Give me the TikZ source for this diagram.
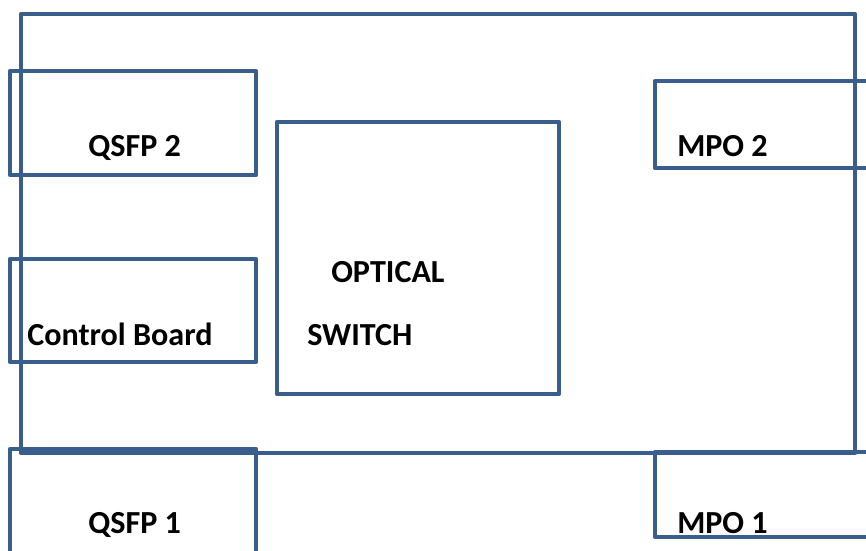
\documentclass[tikz,border=0pt]{standalone}
\usepackage{fontspec}
\setmainfont{Carlito}
\definecolor{boxblue}{RGB}{58,94,140}
\tikzset{
  box/.style={draw=boxblue, line width=3.2pt, line join=round},
  lbl/.style={font=\fontsize{24.1}{29}\selectfont\bfseries, anchor=base west, inner sep=0pt, text=black}
}
\begin{document}
\begin{tikzpicture}[x=0.75pt,y=-0.75pt]
\useasboundingbox (0,0) rectangle (866,550);
\clip (0,0) rectangle (866,550);
% outer board
\draw[box] (21,14) rectangle (855,453);
% left modules
\draw[box] (10,71) rectangle (256,175);
\draw[box] (10,259) rectangle (256,362);
\draw[box] (10,449) rectangle (256,570);
% optical switch
\draw[box] (277,122) rectangle (559,394);
% right modules
\draw[box] (655,81) rectangle (890,168);
\draw[box] (655,452) rectangle (890,537);
% labels
\node[lbl] (qsfp2) at (88,156) {QSFP 2};
\node[lbl] (ctrl) at (27,345) {Control Board};
\node[lbl] (qsfp1) at (88,533) {QSFP 1};
\node[lbl] (optical) at (331,282) {OPTICAL};
\node[lbl] (switch) at (307,345) {SWITCH};
\node[lbl] (mpo2) at (677,156) {MPO 2};
\node[lbl] (mpo1) at (677,533) {MPO 1};
\end{tikzpicture}
\end{document}
